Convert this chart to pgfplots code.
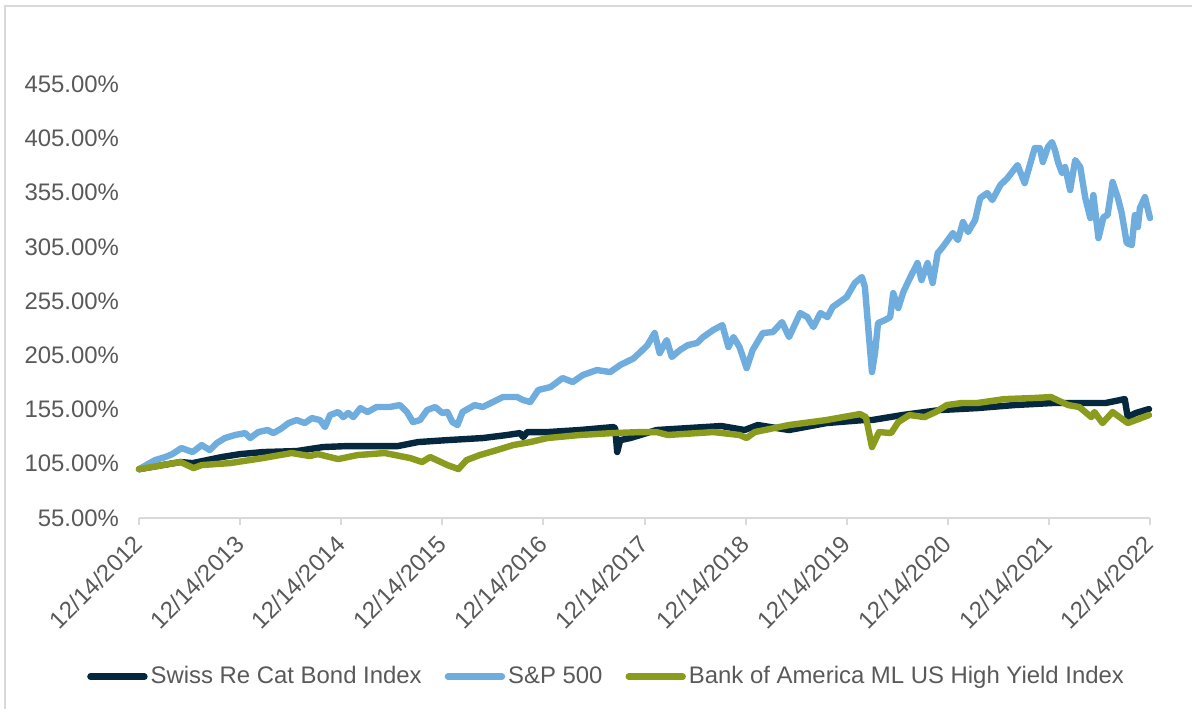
\documentclass[border=0pt]{standalone}
\usepackage{pgfplots}
\pgfplotsset{compat=1.18}
\usepackage{fontspec}
\setmainfont{Liberation Sans}
\definecolor{navyc}{HTML}{05283F}
\definecolor{bluec}{HTML}{6EADDE}
\definecolor{olivec}{HTML}{8B9B1E}
\definecolor{axisgray}{HTML}{D9D9D9}
\definecolor{labelgray}{HTML}{595959}
\begin{document}
\begin{tikzpicture}
\useasboundingbox (-69.5bp,-95.5bp) rectangle (526.5bp,259bp);
\draw[axisgray, line width=1bp] (-67bp,-96bp) -- (-67bp,256bp) -- (527bp,256bp);
\begin{axis}[
  at={(0,0)}, anchor=south west,
  scale only axis, width=505.5bp, height=244.1bp,
  xmin=0, xmax=10, ymin=55, ymax=505,
  axis x line*=bottom, axis y line*=left,
  x axis line style={draw=axisgray, line width=1bp, -},
  y axis line style={draw=none},
  xtick={0,1,...,10},
  xticklabels={12/14/2012,12/14/2013,12/14/2014,12/14/2015,12/14/2016,12/14/2017,12/14/2018,12/14/2019,12/14/2020,12/14/2021,12/14/2022},
  xtick style={draw=axisgray, line width=1bp},
  major tick length=3.5bp, tick align=outside,
  ytick={55,105,155,205,255,305,355,405,455},
  yticklabels={55.00\%,105.00\%,155.00\%,205.00\%,255.00\%,305.00\%,355.00\%,405.00\%,455.00\%},
  ytick style={draw=none},
  ticklabel style={font=\fontsize{12}{14}\selectfont, text=labelgray},
  xticklabel style={xshift=0.5bp, yshift=-6.5bp, rotate=45, anchor=east, inner sep=1bp},
  yticklabel style={anchor=east, xshift=-3bp},
  legend style={at={(0.463,-0.325)}, anchor=center, draw=none, fill=none,
    font=\fontsize{12}{14}\selectfont, text=labelgray,
    nodes={inner sep=1.5bp},
    /tikz/every even column/.append style={column sep=10bp}},
  legend columns=3,
  legend image code/.code={\draw[#1, line cap=round] (0bp,0bp) -- (27bp,0bp);},
  every axis plot/.append style={line width=3.2bp, line join=round, line cap=round},
  clip=false,
]
\addplot[navyc] coordinates {
(0,100) (0.41,106.6) (0.53,105.6) (0.82,111.2) (1.00,113.9) (1.23,115.8) (1.56,116.7)
(1.82,120.4) (2.06,121.3) (2.56,121.3) (2.76,125.0) (3.05,126.8) (3.40,128.7) (3.64,131.5)
(3.77,133.3) (3.80,129.6) (3.84,134.2) (4.04,134.2) (4.36,136.1) (4.69,138.8) (4.71,137.9)
(4.73,115.8) (4.76,126.8) (4.86,128.7) (5.12,136.1) (5.76,139.8) (5.99,136.1) (6.12,140.7)
(6.43,136.1) (6.80,142.5) (7.17,145.3) (7.25,145.3) (7.55,149.9) (7.92,154.5) (8.29,156.3)
(8.66,159.1) (9.04,161.0) (9.56,161.0) (9.75,164.6) (9.78,148.0) (9.86,151.8) (9.99,155.4)
};
\addlegendentry{Swiss Re Cat Bond Index}
\addplot[bluec] coordinates {
(0,100) (0.16,108.4) (0.26,111.2) (0.33,113.9) (0.42,119.5) (0.53,115.8) (0.62,122.2)
(0.70,117.6) (0.77,124.1) (0.85,128.7) (0.95,131.5) (1.05,133.3) (1.10,128.7) (1.18,134.2)
(1.27,136.1) (1.33,133.3) (1.40,137.0) (1.48,142.5) (1.56,145.3) (1.64,142.5) (1.71,147.1)
(1.79,145.3) (1.84,138.8) (1.89,149.9) (1.97,152.7) (2.02,148.0) (2.07,151.8) (2.12,148.0)
(2.19,156.3) (2.26,152.7) (2.35,157.3) (2.43,157.3) (2.48,157.3) (2.58,159.1) (2.65,152.7)
(2.71,143.4) (2.78,145.3) (2.85,154.5) (2.93,157.3) (3.00,151.8) (3.05,152.7) (3.10,143.4)
(3.15,140.7) (3.20,152.7) (3.32,159.1) (3.40,157.3) (3.50,161.9) (3.60,166.5) (3.74,166.5)
(3.80,163.7) (3.87,161.9) (3.95,173.0) (4.07,175.7) (4.19,184.0) (4.29,180.3) (4.39,186.8)
(4.53,191.4) (4.66,189.5) (4.76,196.0) (4.89,202.0) (4.96,208.0) (5.03,214.4) (5.10,225.5)
(5.15,207.0) (5.22,219.0) (5.27,203.4) (5.35,209.8) (5.43,214.4) (5.52,216.3) (5.58,221.8)
(5.68,228.3) (5.77,232.8) (5.83,212.6) (5.88,221.8) (5.94,212.6) (6.01,193.2) (6.07,209.8)
(6.17,225.5) (6.27,226.4) (6.36,235.6) (6.43,221.8) (6.54,243.9) (6.61,240.2) (6.67,231.0)
(6.74,243.9) (6.81,240.2) (6.86,249.4) (7.00,258.7) (7.08,271.6) (7.15,277.1) (7.18,267.9)
(7.20,245.0) (7.25,189.5) (7.28,207.0) (7.31,234.7) (7.38,237.5) (7.43,240.2) (7.46,262.3)
(7.51,248.5) (7.56,263.3) (7.63,277.1) (7.70,290.0) (7.74,274.3) (7.80,290.0) (7.85,271.6)
(7.90,299.2) (7.95,304.8) (8.05,317.6) (8.10,311.2) (8.15,327.8) (8.20,318.6) (8.27,329.6)
(8.32,349.9) (8.39,354.5) (8.44,348.1) (8.52,361.9) (8.59,368.3) (8.69,380.3) (8.76,363.7)
(8.86,396.0) (8.91,396.0) (8.94,383.1) (8.99,396.9) (9.03,401.5) (9.06,394.1) (9.09,383.1)
(9.13,372.9) (9.16,378.5) (9.21,357.3) (9.26,384.9) (9.31,378.5) (9.36,349.9) (9.41,331.5)
(9.44,352.7) (9.49,313.0) (9.54,332.4) (9.58,334.2) (9.63,364.7) (9.68,350.8) (9.72,336.1)
(9.77,308.4) (9.82,306.6) (9.85,334.2) (9.88,323.2) (9.90,340.7) (9.95,350.8) (10.0,331.5)
};
\addlegendentry{S\&P 500}
\addplot[olivec] coordinates {
(0,100) (0.18,102.9) (0.41,106.6) (0.54,101.0) (0.62,103.8) (0.90,105.6) (1.23,110.3)
(1.51,114.9) (1.69,112.1) (1.77,113.9) (1.97,109.3) (2.16,113.0) (2.43,114.9) (2.68,110.3)
(2.80,106.6) (2.88,111.2) (3.05,103.8) (3.16,100.1) (3.24,108.4) (3.37,113.0) (3.54,117.6)
(3.70,122.2) (3.87,125.0) (4.04,128.7) (4.36,131.5) (4.69,133.3) (4.96,134.2) (5.12,134.2)
(5.23,131.5) (5.68,134.2) (5.94,131.5) (6.01,128.7) (6.09,134.2) (6.43,140.7) (6.80,145.3)
(7.13,150.8) (7.19,148.0) (7.25,120.4) (7.32,134.2) (7.44,133.3) (7.51,143.4) (7.62,149.9)
(7.77,148.0) (7.88,152.7) (7.99,159.1) (8.14,161.0) (8.29,161.0) (8.56,164.6) (8.85,165.6)
(9.02,166.5) (9.19,159.1) (9.30,157.3) (9.42,148.0) (9.45,152.7) (9.53,142.5) (9.63,152.7)
(9.78,142.5) (9.86,145.3) (9.99,149.9)
};
\addlegendentry{Bank of America ML US High Yield Index}
\end{axis}
\end{tikzpicture}
\end{document}
